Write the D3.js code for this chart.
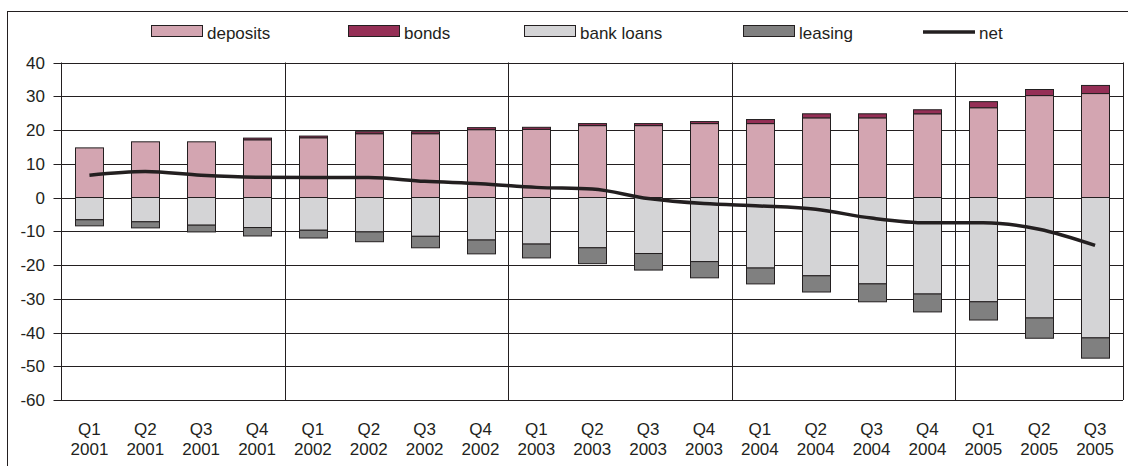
<!DOCTYPE html>
<html><head><meta charset="utf-8">
<script src="https://cdn.jsdelivr.net/npm/d3@7"></script>
<style>
html,body{margin:0;padding:0;background:#fff;}
svg{display:block;}
text{font-family:Arial,"Liberation Sans",sans-serif;fill:#231f20;}
</style></head>
<body>
<svg id="chart" width="1128" height="466"></svg>
<script>
const categories = ["Q1 2001","Q2 2001","Q3 2001","Q4 2001","Q1 2002","Q2 2002","Q3 2002","Q4 2002",
  "Q1 2003","Q2 2003","Q3 2003","Q4 2003","Q1 2004","Q2 2004","Q3 2004","Q4 2004","Q1 2005","Q2 2005","Q3 2005"];
const deposits  = [14.7,16.5,16.5,17.1,17.7,18.9,18.9,20.1,20.2,21.3,21.3,21.9,21.9,23.6,23.6,24.8,26.6,30.2,30.8];
const bonds     = [0,0,0,0.5,0.5,0.6,0.6,0.6,0.6,0.6,0.6,0.6,1.2,1.2,1.2,1.2,1.8,1.8,2.4];
const bankLoans = [-6.6,-7.2,-8.2,-8.9,-9.7,-10.2,-11.5,-12.6,-13.8,-14.9,-16.6,-19.0,-20.9,-23.2,-25.6,-28.6,-30.9,-35.7,-41.6];
const leasing   = [-1.8,-1.8,-2.0,-2.5,-2.3,-2.9,-3.4,-4.1,-4.1,-4.7,-4.9,-4.8,-4.7,-4.8,-5.3,-5.3,-5.4,-6.0,-6.0];
const net       = [6.6,7.7,6.6,6.0,5.9,5.9,4.8,4.1,3.0,2.5,-0.3,-1.8,-2.5,-3.5,-6.1,-7.5,-7.5,-9.4,-14.2];
const yTicks    = [40,30,20,10,0,-10,-20,-30,-40,-50,-60];
const seriesNames  = ["deposits","bonds","bank loans","leasing","net"];
const seriesColors = ["#d3a5b1","#952f56","#d4d4d6","#808080","#231f20"];

const svg = d3.select("#chart");
const ink = "#231f20";
const pLeft = 61.5, pRight = 1123, pTop = 62.5, pBottom = 400;

// outer frame
svg.append("rect").attr("x",7.5).attr("y",11.5).attr("width",1130).attr("height",470)
  .attr("fill","none").attr("stroke",ink).attr("stroke-width",1);

const x = d3.scaleBand().domain(categories).range([pLeft,pRight]).paddingInner(0.5).paddingOuter(0.25);
const y = d3.scaleLinear().domain([-60,40]).range([pBottom,pTop]);
const step = x.step();

// horizontal gridlines
svg.append("g").selectAll("line").data(yTicks).join("line")
  .attr("x1",pLeft-8).attr("x2",pRight)
  .attr("y1",d=>Math.round(y(d))+0.5).attr("y2",d=>Math.round(y(d))+0.5)
  .attr("stroke",ink).attr("stroke-width",1);

// year separators
const yearStarts = categories.filter((c,i)=>i>0 && c.startsWith("Q1"));
svg.append("g").selectAll("line").data(yearStarts).join("line")
  .attr("x1",d=>Math.round(x(d)-step*0.25)+0.5).attr("x2",d=>Math.round(x(d)-step*0.25)+0.5)
  .attr("y1",pTop).attr("y2",pBottom)
  .attr("stroke",ink).attr("stroke-width",1);

// axis lines
svg.append("line").attr("x1",pLeft).attr("x2",pLeft).attr("y1",pTop).attr("y2",pBottom).attr("stroke",ink);
svg.append("line").attr("x1",pRight+0.5).attr("x2",pRight+0.5).attr("y1",pTop).attr("y2",pBottom).attr("stroke",ink);

// y labels
svg.append("g").selectAll("text").data(yTicks).join("text")
  .attr("x",45).attr("y",d=>y(d)).attr("dy","0.36em").attr("text-anchor","end")
  .attr("font-size",17).text(d=>d);

// stacked bars
const rows = categories.map((c,i)=>({c, d:deposits[i], b:bonds[i], l:bankLoans[i], s:leasing[i]}));
const segs = [];
rows.forEach(r=>{
  segs.push({c:r.c, y0:0, y1:r.d, color:seriesColors[0]});
  if (r.b>0) segs.push({c:r.c, y0:r.d, y1:r.d+r.b, color:seriesColors[1]});
  segs.push({c:r.c, y0:0, y1:r.l, color:seriesColors[2]});
  segs.push({c:r.c, y0:r.l, y1:r.l+r.s, color:seriesColors[3]});
});
svg.append("g").selectAll("rect").data(segs).join("rect")
  .attr("x",d=>Math.round(x(d.c))+0.5)
  .attr("width",Math.round(x.bandwidth()))
  .attr("y",d=>y(Math.max(d.y0,d.y1)))
  .attr("height",d=>Math.abs(y(d.y0)-y(d.y1)))
  .attr("fill",d=>d.color).attr("stroke",ink).attr("stroke-width",1);

// net line
const line = d3.line().x((d,i)=>x(categories[i])+x.bandwidth()/2).y(d=>y(d)).curve(d3.curveMonotoneX);
svg.append("path").datum(net).attr("d",line).attr("fill","none")
  .attr("stroke",ink).attr("stroke-width",3.5).attr("stroke-linejoin","round");

// x labels
const xl = svg.append("g").selectAll("text").data(categories).join("text")
  .attr("x",d=>x(d)+x.bandwidth()/2).attr("text-anchor","middle").attr("font-size",17);
xl.append("tspan").attr("x",d=>x(d)+x.bandwidth()/2).attr("y",435).text(d=>d.split(" ")[0]);
xl.append("tspan").attr("x",d=>x(d)+x.bandwidth()/2).attr("y",455).text(d=>d.split(" ")[1]);

// legend
const legX = [151,348,524,743,923];
const lg = svg.append("g");
seriesNames.forEach((n,i)=>{
  if (i<4) {
    lg.append("rect").attr("x",legX[i]+0.5).attr("y",25.5).attr("width",51).attr("height",11)
      .attr("fill",seriesColors[i]).attr("stroke",ink).attr("stroke-width",1);
  } else {
    lg.append("line").attr("x1",legX[i]).attr("x2",legX[i]+52).attr("y1",32).attr("y2",32)
      .attr("stroke",seriesColors[i]).attr("stroke-width",3.5);
  }
  lg.append("text").attr("x",legX[i]+56).attr("y",33).attr("dy","0.36em").attr("font-size",17).text(n);
});
</script>
</body></html>
